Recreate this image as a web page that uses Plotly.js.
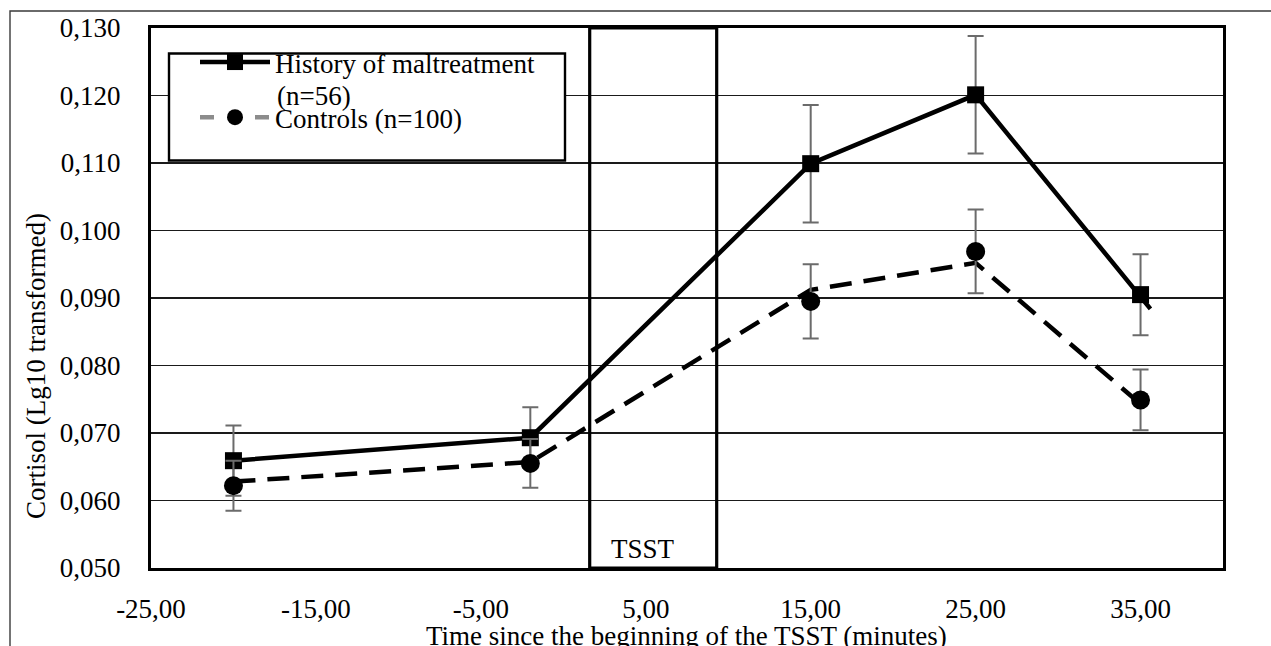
<!DOCTYPE html>
<html>
<head>
<meta charset="utf-8">
<script src="https://cdn.plot.ly/plotly-3.0.1.min.js"></script>
<style>html,body{margin:0;padding:0;background:#fff;}#chart{width:1271px;height:646px;}</style>
</head>
<body>
<div id="chart"></div>
<script>
// ---- data ----
var timeMin = [-20, -2, 15, 25, 35];
var maltMean = [0.0659, 0.0693, 0.1099, 0.1201, 0.0905];
var maltErr  = [0.0052, 0.0045, 0.0087, 0.0087, 0.0060];
var ctrlMean = [0.0622, 0.0655, 0.0895, 0.0969, 0.0749];
var ctrlErr  = [0.0037, 0.0036, 0.0055, 0.0062, 0.0045];
// connecting lines as drawn in the original figure
var maltLineX = [-20, -2, 15, 25, 35.6];
var maltLineY = [0.0659, 0.0693, 0.1099, 0.1201, 0.0884];
var ctrlLineX = [-20, -2, 15, 25, 35];
var ctrlLineY = [0.0628, 0.0657, 0.0912, 0.0952, 0.0743];
var tsstWindow = [1.6, 9.3];
var xTickVals = [-25, -15, -5, 5, 15, 25, 35];
var xTickText = ["-25,00", "-15,00", "-5,00", "5,00", "15,00", "25,00", "35,00"];
var yTickVals = [0.05, 0.06, 0.07, 0.08, 0.09, 0.10, 0.11, 0.12, 0.13];
var yTickText = ["0,050", "0,060", "0,070", "0,080", "0,090", "0,100", "0,110", "0,120", "0,130"];
var maltName = "History of maltreatment";
var maltN = "(n=56)";
var ctrlName = "Controls (n=100)";

// ---- layout helpers ----
var W = 1271, H = 646, ML = 151, MR = 48, MT = 28, MB = 78;
var PW = W - ML - MR, PH = H - MT - MB;
function px(x) { return (x - ML) / PW; }
function py(y) { return (H - MB - y) / PH; }
var FONT = "Liberation Serif";
var F = {family: FONT, size: 27, color: "#000"};

var traces = [
  {x: maltLineX, y: maltLineY, mode: "lines", showlegend: false, hoverinfo: "skip",
   line: {color: "#000", width: 4.5}},
  {x: ctrlLineX, y: ctrlLineY, mode: "lines", showlegend: false, hoverinfo: "skip",
   line: {color: "#000", width: 4.5, dash: "22px,12px"}},
  {x: timeMin, y: maltMean, mode: "markers", showlegend: false,
   marker: {symbol: "square", size: 17, color: "#000"},
   error_y: {type: "data", array: maltErr, visible: true, color: "#6b6b6b", thickness: 2, width: 8}},
  {x: timeMin, y: ctrlMean, mode: "markers", showlegend: false,
   marker: {symbol: "circle", size: 19, color: "#000"},
   error_y: {type: "data", array: ctrlErr, visible: true, color: "#6b6b6b", thickness: 2, width: 8}},
  // legend entries
  {x: [null], y: [null], mode: "lines+markers", name: maltName, legendgroup: "a",
   line: {color: "#000", width: 4.5}, marker: {symbol: "square", size: 16, color: "#000"}},
  {x: [null], y: [null], mode: "lines+markers", name: ctrlName, legendgroup: "b",
   line: {color: "#8c8c8c", width: 4.5, dash: "14px,41px"}, marker: {symbol: "circle", size: 16, color: "#000"}}
];

var layout = {
  width: W, height: H,
  margin: {l: ML, r: MR, t: MT, b: MB, pad: 0},
  paper_bgcolor: "#fff", plot_bgcolor: "#fff",
  font: F,
  showlegend: true,
  legend: {x: px(195), y: py(38), xanchor: "left", yanchor: "top",
    bgcolor: "rgba(0,0,0,0)", borderwidth: 0, itemwidth: 70, tracegroupgap: 17,
    font: F},
  xaxis: {range: [-25, 40], tickvals: xTickVals, ticktext: xTickText, ticks: "",
    showgrid: false, zeroline: false, showline: true, mirror: true, linecolor: "#000", linewidth: 3,
    ticklabelstandoff: 15, tickfont: F},
  yaxis: {range: [0.05, 0.13], tickvals: yTickVals, ticktext: yTickText, ticks: "",
    showgrid: true, gridcolor: "#1a1a1a", gridwidth: 1.6, zeroline: false,
    showline: true, mirror: true, linecolor: "#000", linewidth: 3,
    ticklabelstandoff: 22, tickfont: F},
  shapes: [
    // outer chart frame
    {type: "rect", xref: "paper", yref: "paper", x0: px(10), x1: px(1300), y0: py(700), y1: py(11),
     line: {color: "#3a3a3a", width: 1.4}, fillcolor: "rgba(0,0,0,0)", layer: "below"},
    // TSST window
    {type: "rect", xref: "x", yref: "paper", x0: tsstWindow[0], x1: tsstWindow[1], y0: 0, y1: 1,
     line: {color: "#000", width: 3.2}, fillcolor: "rgba(0,0,0,0)", layer: "above"},
    // legend box
    {type: "rect", xref: "paper", yref: "paper", x0: px(169), x1: px(565), y0: py(160.5), y1: py(53.5),
     line: {color: "#000", width: 2.4}, fillcolor: "#fff", layer: "above"}
  ],
  annotations: [
    {text: maltN, xref: "paper", yref: "paper", x: px(275), y: py(96), xanchor: "left", yanchor: "middle",
     showarrow: false, font: F},
    {text: "TSST", xref: "x", yref: "paper", x: 4.84, y: py(549), xanchor: "center", yanchor: "middle",
     showarrow: false, font: F},
    {text: "Cortisol (Lg10 transformed)", xref: "paper", yref: "paper", x: px(36), y: py(366),
     xanchor: "center", yanchor: "middle", textangle: -90, showarrow: false, font: F},
    {text: "Time since the beginning of the TSST (minutes)", xref: "paper", yref: "paper",
     x: px(686), y: py(636), xanchor: "center", yanchor: "middle", showarrow: false, font: F}
  ]
};

Plotly.newPlot("chart", traces, layout, {staticPlot: true, displayModeBar: false});
</script>
</body>
</html>
